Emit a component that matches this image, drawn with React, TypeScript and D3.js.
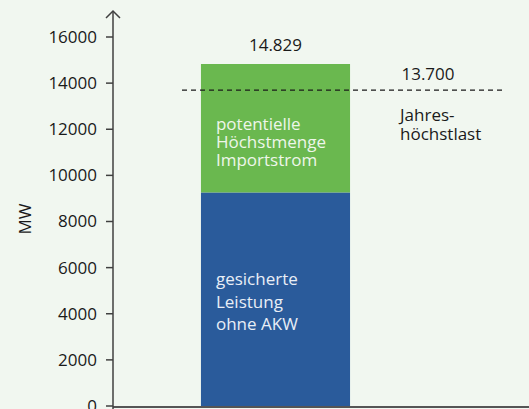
import React from "react";
import * as d3 from "d3";

const categories = ["Kapazität"];
const segmentKeys = ["gesichert", "import"];
const securedValues = [9260];
const importValues = [5569];
const peakLoad = 13700;
const yTicks = [0, 2000, 4000, 6000, 8000, 10000, 12000, 14000, 16000];
const greenLabel = ["potentielle", "Höchstmenge", "Importstrom"];
const blueLabel = ["gesicherte", "Leistung", "ohne AKW"];
const peakLabel = ["Jahres-", "höchstlast"];

const W = 529;
const H = 409;
const font = "'Open Sans', sans-serif";
const colors: Record<string, string> = { gesichert: "#2a5b9b", import: "#6ab84f" };

const de = d3.formatLocale({ decimal: ",", thousands: ".", grouping: [3], currency: ["", " €"] });
const fmt = de.format(",");

export default function App() {
  const rows = categories.map((c, i) => ({ cat: c, gesichert: securedValues[i], import: importValues[i] }));
  const series = d3.stack<any>().keys(segmentKeys)(rows);

  const y = d3.scaleLinear().domain([0, 16000]).range([406, 37]);
  const x = d3.scaleBand().domain(categories).range([113, 438]).paddingInner(0).paddingOuter(0.59);
  const axisX = 113;

  const bx = x(categories[0])!;
  const bw = x.bandwidth();
  const total = securedValues[0] + importValues[0];

  return (
    <svg width={W} height={H} style={{ position: "absolute", left: 0, top: 0, background: "#f1f7f0" }}
      fontFamily={font}>
      <rect width={W} height={H} fill="#f1f7f0" />
      {series.map((s) =>
        s.map((d, j) => (
          <rect key={s.key + j} x={x(d.data.cat)} width={bw} y={y(d[1])} height={y(d[0]) - y(d[1])}
            fill={colors[s.key]} />
        ))
      )}
      {/* text in segments */}
      {greenLabel.map((t, i) => (
        <text key={t} x={bx + 15} y={y(total) + 66 + i * 18} fontSize={17} fill="#eef6ea">{t}</text>
      ))}
      {blueLabel.map((t, i) => (
        <text key={t} x={bx + 15} y={y(securedValues[0]) + 93 + i * 22.5} fontSize={17} fill="#e8eef6">{t}</text>
      ))}
      {/* total label */}
      <text x={bx + bw / 2} y={y(total) - 13} textAnchor="middle" fontSize={17} fill="#1a1a1a">{fmt(total)}</text>
      {/* peak load line */}
      <line x1={182} x2={505} y1={y(peakLoad)} y2={y(peakLoad)} stroke="#1a1a1a" strokeWidth={1.2}
        strokeDasharray="5,4" />
      <text x={428} y={y(peakLoad) - 10} textAnchor="middle" fontSize={17} fill="#1a1a1a">{fmt(peakLoad)}</text>
      {peakLabel.map((t, i) => (
        <text key={t} x={400} y={y(peakLoad) + 31 + i * 19} fontSize={17} fill="#1a1a1a">{t}</text>
      ))}
      {/* axes */}
      <line x1={axisX} x2={W} y1={407} y2={407} stroke="#555" strokeWidth={2} />
      <line x1={axisX} x2={axisX} y1={11} y2={409} stroke="#404040" strokeWidth={1.5} />
      <path d={`M${axisX - 7},18L${axisX},11L${axisX + 7},18`} fill="none" stroke="#404040" strokeWidth={1.5} />
      {yTicks.map((t) => (
        <g key={t} transform={`translate(0,${y(t)})`}>
          <line x1={axisX - 7} x2={axisX} stroke="#404040" strokeWidth={1.5} />
          <text x={97} dy="0.35em" textAnchor="end" fontSize={17} fill="#1a1a1a">{t}</text>
        </g>
      ))}
      <text transform={`translate(31,219) rotate(-90)`} textAnchor="middle" fontSize={17} fill="#1a1a1a">MW</text>
    </svg>
  );
}
